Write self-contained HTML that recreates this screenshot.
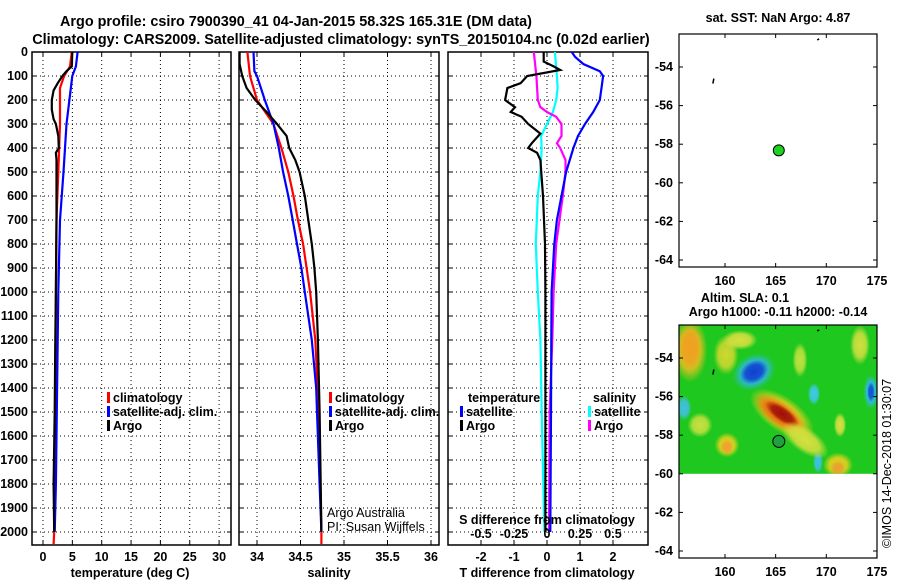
<!DOCTYPE html>
<html><head><meta charset="utf-8"><style>
html,body{margin:0;padding:0;background:#fff;}
svg{display:block;font-family:"Liberation Sans",sans-serif;}
.b{font-weight:bold;font-size:12.5px;}
.t{font-weight:bold;font-size:14.4px;}
.n{font-size:12.5px;}
</style></head><body>
<svg id="c" width="900" height="580" viewBox="0 0 900 580">
<text class="t" x="296" y="26" text-anchor="middle">Argo profile: csiro 7900390_41 04-Jan-2015 58.32S 165.31E (DM data)</text>
<text class="t" x="341" y="44" text-anchor="middle">Climatology: CARS2009. Satellite-adjusted climatology: synTS_20150104.nc (0.02d earlier)</text>
<text class="b" x="778" y="22" text-anchor="middle">sat. SST: NaN Argo: 4.87</text>
<text class="b" x="745" y="302" text-anchor="middle">Altim. SLA: 0.1</text>
<text class="b" x="778" y="316" text-anchor="middle">Argo h1000: -0.11 h2000: -0.14</text>
<text class="n" transform="translate(891,548) rotate(-90)">©IMOS 14-Dec-2018 01:30:07</text>
<g id="g"></g>
</svg>
<script>
// ---------- data ----------
const depthTicks=[0,100,200,300,400,500,600,700,800,900,1000,1100,1200,1300,1400,1500,1600,1700,1800,1900,2000];
const tempTicks=[0,5,10,15,20,25,30];
const salTicks=[34,34.5,35,35.5,36];
const tdiffTicks=[-2,-1,0,1,2];
const sdiffTicks=[-0.5,-0.25,0,0.25,0.5];
const sdiffLabels=["-0.5","-0.25","0","0.25","0.5"];
const latTicks=[-54,-56,-58,-60,-62,-64];
const lonTicks=[160,165,170,175];

const argoTD=[0,60,80,100,130,160,200,240,280,300,350,400,420,450,700,1000,1200,1500,1800,2000];
const argoT=[5.0,4.9,4.0,3.3,2.5,1.8,1.5,1.5,1.8,2.2,2.6,2.7,2.2,2.3,2.3,2.2,2.1,2.0,1.8,1.9];
const climTD=[0,60,100,150,300,500,700,1000,1500,2000,2050];
const climT=[4.9,4.6,3.6,2.9,2.9,2.6,2.3,2.2,2.1,1.9,1.8];
const satTD=[0,60,100,200,300,500,700,1000,1400,1600,1800,2000];
const satT=[5.9,5.6,5.0,4.5,4.0,3.5,2.9,2.6,2.4,2.3,2.2,2.0];

const argoSD=[0,50,100,150,200,250,300,350,400,450,500,600,700,800,900,1000,1200,1500,2000];
const argoS=[33.8,33.8,33.83,33.88,33.98,34.11,34.23,34.34,34.37,34.44,34.49,34.55,34.59,34.63,34.66,34.68,34.7,34.72,34.74];
const climSD=[0,100,200,300,400,500,600,700,800,900,1000,1200,1500,2000,2050];
const climS=[33.89,33.92,34.0,34.19,34.28,34.36,34.42,34.47,34.53,34.57,34.61,34.67,34.71,34.74,34.74];
const satSD=[0,80,100,200,300,400,500,600,700,800,900,1000,1200,1400,1500,1800,2000];
const satS=[33.96,33.97,34.0,34.09,34.19,34.25,34.3,34.36,34.41,34.46,34.51,34.55,34.63,34.68,34.69,34.72,34.74];

const dArgoTD=[0,40,60,75,100,130,150,200,230,250,270,300,340,380,400,420,450,600,800,1000,1500,2000];
const dArgoT=[-0.1,-0.1,0.2,0.4,-0.6,-0.8,-1.2,-1.27,-0.97,-1.1,-0.77,-0.57,-0.2,-0.46,-0.57,-0.3,-0.2,-0.12,-0.06,-0.05,-0.05,-0.05];
const dSatTD=[0,20,50,80,100,150,200,250,300,350,400,500,600,700,800,1000,1200,1500,2000];
const dSatT=[0.75,0.85,1.1,1.6,1.7,1.65,1.6,1.4,1.15,0.94,0.8,0.58,0.44,0.3,0.22,0.14,0.13,0.12,0.1];
const dArgoSD=[0,100,150,200,230,250,270,300,350,380,400,450,500,600,800,1000,1200,1500,2000];
const dArgoS=[-0.1,-0.08,-0.075,-0.07,-0.05,0,0.07,0.11,0.11,0.075,0.1,0.14,0.14,0.12,0.07,0.05,0.04,0.02,0.015];
const dSatSD=[0,100,150,200,250,300,350,400,500,600,800,1000,1200,1500,2000];
const dSatS=[0.06,0.075,0.08,0.07,0.045,0,-0.045,-0.04,-0.05,-0.07,-0.085,-0.07,-0.05,-0.04,-0.02];

const floatLon=[165.31], floatLat=[-58.32];

// ---------- helpers ----------
const NS="http://www.w3.org/2000/svg", G=document.getElementById('g');
function mk(tag,at,parent){const e=document.createElementNS(NS,tag);for(const k in at)e.setAttribute(k,at[k]);(parent||G).appendChild(e);return e;}
const PT=52, PB=545;
const yD=d=>52+d*0.24;
const xT=t=>43+t*5.87;
const xS=s=>257+(s-34)*87;
const xDT=t=>547+t*33;
const xDS=s=>547+s*132;

function panel(x0,x1,vlines,name){
  const g=mk('g',{});
  
  
  vlines.forEach(x=>{const l=mk('line',{x1:x,x2:x,y1:PT,y2:PB,stroke:'#000','stroke-width':1,'stroke-dasharray':'1,3'},g);
    mk('line',{x1:x,x2:x,y1:PB,y2:PB-4,stroke:'#000'},g);mk('line',{x1:x,x2:x,y1:PT,y2:PT+4,stroke:'#000'},g);});
  depthTicks.forEach(d=>{const y=yD(d);const l=mk('line',{x1:x0,x2:x1,y1:y,y2:y,stroke:'#000','stroke-width':1,'stroke-dasharray':'1,3'},g);
    mk('line',{x1:x0,x2:x0+4,y1:y,y2:y,stroke:'#000'},g);mk('line',{x1:x1,x2:x1-4,y1:y,y2:y,stroke:'#000'},g);});
  const r=mk('rect',{x:x0,y:PT,width:x1-x0,height:PB-PT,fill:'none',stroke:'#000','stroke-width':1.5},g);
  
  return g;
}
function line(D,V,fx,col,name,x0,x1){
  const cp='cp'+name;
  const c=mk('clipPath',{id:cp});mk('rect',{x:x0,y:PT,width:x1-x0,height:PB-PT},c);
  const pts=D.map((d,i)=>fx(V[i]).toFixed(1)+','+yD(d).toFixed(1)).join(' ');
  const p=mk('polyline',{points:pts,fill:'none',stroke:col,'stroke-width':2.2,'clip-path':'url(#'+cp+')'});
  
  
}
function txt(x,y,s,cls,anchor,name,fill){const t=mk('text',{x:x,y:y,class:cls,'text-anchor':anchor||'start',fill:fill||'#000'});t.textContent=s;return t;}
function legend(x,y,col,label,name){mk('rect',{x:x,y:y-10,width:3,height:11,fill:col});txt(x+6,y,label,'b','start',name);}

depthTicks.forEach(d=>txt(28,yD(d)+4,String(d),'b','end','depth-tick-label'));

// panel 1
panel(32,231,tempTicks.map(xT),'temperature-panel');
line(climTD,climT,xT,'#f00','temp-climatology-line',32,231);
line(satTD,satT,xT,'#00f','temp-satellite-line',32,231);
line(argoTD,argoT,xT,'#000','temp-argo-line',32,231);
tempTicks.forEach(t=>txt(xT(t),561,String(t),'b','middle','temp-tick-label'));
txt(130,577,'temperature (deg C)','b','middle','temp-axis-title');
legend(107,402,'#f00','climatology','legend-climatology');
legend(107,416,'#00f','satellite-adj. clim.','legend-satellite');
legend(107,430,'#000','Argo','legend-argo');

// panel 2
panel(239,439,salTicks.map(xS),'salinity-panel');
line(climSD,climS,xS,'#f00','sal-climatology-line',239,439);
line(satSD,satS,xS,'#00f','sal-satellite-line',239,439);
line(argoSD,argoS,xS,'#000','sal-argo-line',239,439);
salTicks.forEach(s=>txt(xS(s),561,String(s),'b','middle','sal-tick-label'));
txt(329,577,'salinity','b','middle','sal-axis-title');
legend(329,402,'#f00','climatology','legend-sal-climatology');
legend(329,416,'#00f','satellite-adj. clim.','legend-sal-satellite');
legend(329,430,'#000','Argo','legend-sal-argo');
txt(327,517,'Argo Australia','n','start','credit-argo-australia');
txt(327,531,'PI: Susan Wijffels','n','start','credit-pi');

// panel 3
panel(448,648,tdiffTicks.map(xDT),'difference-panel');
line(dSatSD,dSatS,xDS,'#0ff','sdiff-satellite-line',448,648);
line(dArgoSD,dArgoS,xDS,'#f0f','sdiff-argo-line',448,648);
line(dSatTD,dSatT,xDT,'#00f','tdiff-satellite-line',448,648);
line(dArgoTD,dArgoT,xDT,'#000','tdiff-argo-line',448,648);
tdiffTicks.forEach(t=>txt(xDT(t),561,String(t),'b','middle','tdiff-tick-label'));
txt(547,577,'T difference from climatology','b','middle','tdiff-axis-title');
sdiffTicks.forEach((s,i)=>txt(xDS(s),538,sdiffLabels[i],'b','middle','sdiff-tick-label'));
txt(547,524,'S difference from climatology','b','middle','sdiff-axis-title');
txt(468,402,'temperature','b','start','legend-temperature-heading');
legend(460,416,'#00f','satellite','legend-tdiff-satellite');
legend(460,430,'#000','Argo','legend-tdiff-argo');
txt(593,402,'salinity','b','start','legend-salinity-heading');
legend(588,416,'#0ff','satellite','legend-sdiff-satellite');
legend(588,430,'#f0f','Argo','legend-sdiff-argo');

// maps
const MX0=679,MX1=877;
const xL=l=>725+(l-160)*10.13;
function map(top,name,heat){
  const yL=la=>top+33+(-54-la)*19.3;
  const g=mk('g',{});
  
  
  if(heat){
    const defs=mk('defs',{},g);
    const hh=yL(-60)-top;
    mk('rect',{x:MX0,y:top,width:MX1-MX0,height:hh,fill:'#1ec81e'},g);
    const cp=mk('clipPath',{id:'hc'},defs);mk('rect',{x:MX0,y:top,width:MX1-MX0,height:hh},cp);
    const hg=mk('g',{'clip-path':'url(#hc)'},g);
    
    
    const blobs=[
      [690,350,14,26,'#e8c020',0],[690,348,9,18,'#f0a020',0],
      [754,372,18,14,'#30b8e8',-30],[754,372,12,9,'#1040d0',-30],
      [782,414,30,14,'#f0d020',35],[780,414,24,10,'#e87010',35],[782,414,16,6,'#a01008',35],
      [726,355,10,16,'#d0d830',0],[740,340,14,8,'#d8e040',0],
      [727,445,10,10,'#e8d020',0],[727,447,5,6,'#f0a030',0],
      [838,465,12,10,'#e8d020',0],[838,468,6,6,'#e8a030',0],
      [871,392,6,14,'#30b8e8',0],[871,392,3,8,'#1050d0',0],
      [814,394,5,9,'#40c8e8',0],[684,408,6,10,'#40c0e0',0],[818,462,4,9,'#40c0e8',0],
      [860,345,8,16,'#d0e040',0],[700,425,10,10,'#c8e040',0],[800,360,6,14,'#c0e040',0],
      [805,440,22,10,'#d8e040',35],[840,425,5,10,'#d8e040',0]
    ];
    blobs.forEach((b,i)=>{
      const gid='bl'+i;
      const rg=mk('radialGradient',{id:gid},defs);
      mk('stop',{offset:'0%','stop-color':b[4],'stop-opacity':1},rg);
      mk('stop',{offset:'60%','stop-color':b[4],'stop-opacity':0.85},rg);
      mk('stop',{offset:'100%','stop-color':b[4],'stop-opacity':0},rg);
      mk('ellipse',{cx:b[0],cy:b[1],rx:b[2]*1.25,ry:b[3]*1.25,fill:'url(#'+gid+')',transform:'rotate('+b[5]+' '+b[0]+' '+b[1]+')'},hg);
    });
  }
  mk('rect',{x:MX0,y:top,width:MX1-MX0,height:233,fill:'none',stroke:'#000','stroke-width':1.2},g);
  latTicks.forEach(la=>{const y=yL(la);mk('line',{x1:MX0,x2:MX0+4,y1:y,y2:y,stroke:'#000'},g);mk('line',{x1:MX1,x2:MX1-4,y1:y,y2:y,stroke:'#000'},g);
    txt(673,y+4,String(la),'b','end','lat-tick-label');});
  lonTicks.forEach(lo=>{const x=xL(lo);mk('line',{x1:x,x2:x,y1:top+233,y2:top+229,stroke:'#000'},g);mk('line',{x1:x,x2:x,y1:top,y2:top+4,stroke:'#000'},g);
    txt(x,top+251,String(lo),'b','middle','lon-tick-label');});
  mk('path',{d:`M${xL(158.9)} ${yL(-54.6)} l-1 5 M${xL(169.1)} ${yL(-52.6)} l2 -1`,stroke:'#000','stroke-width':1.5,fill:'none'},g);
  floatLon.forEach((lo,i)=>{const c=mk('circle',{cx:xL(lo),cy:yL(floatLat[i]),r:heat?6:5.5,fill:heat?'#20a040':'#1ed21e',stroke:'#000','stroke-width':1},g);
    });
}
map(34,'sst-map',false);
map(325,'sla-map',true);
</script>
</body></html>
